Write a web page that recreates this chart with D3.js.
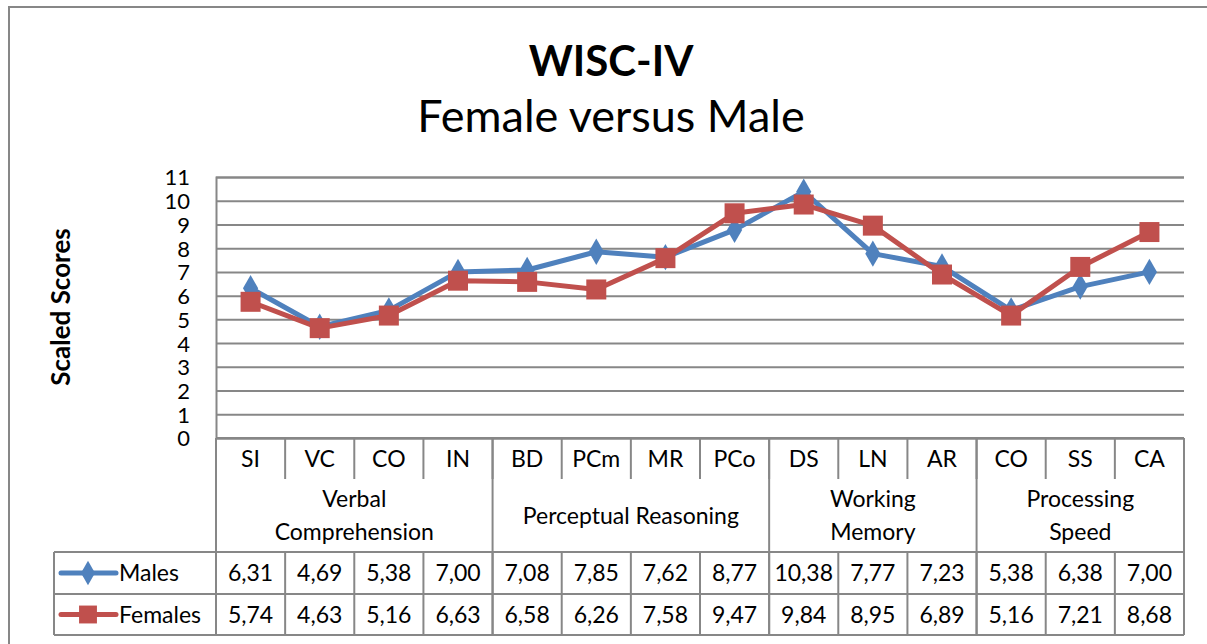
<!DOCTYPE html>
<html lang="en">
<head>
<meta charset="UTF-8">
<script src="https://d3js.org/d3.v7.min.js"></script>
<title>WISC-IV Female versus Male</title>
<style>
  body { margin: 0; background: #fff; }
  svg { display: block; font-family: Lato, "Open Sans", sans-serif; }
</style>
</head>
<body>
<script>
// data
const subtests = ["SI", "VC", "CO", "IN", "BD", "PCm", "MR", "PCo", "DS", "LN", "AR", "CO", "SS", "CA"];
const groupNames = [["Verbal", "Comprehension"], ["Perceptual Reasoning"], ["Working", "Memory"], ["Processing", "Speed"]];
const groupSizes = [4, 4, 3, 3];
const males = [6.31, 4.69, 5.38, 7.00, 7.08, 7.85, 7.62, 8.77, 10.38, 7.77, 7.23, 5.38, 6.38, 7.00];
const females = [5.74, 4.63, 5.16, 6.63, 6.58, 6.26, 7.58, 9.47, 9.84, 8.95, 6.89, 5.16, 7.21, 8.68];
const yTicks = [0, 1, 2, 3, 4, 5, 6, 7, 8, 9, 10, 11];

const width = 1207, height = 644;
const plot = { left: 216, right: 1184, top: 177, bottom: 438 };
const rowCat = 479, rowMales = 552, rowFemales = 594, rowEnd = 635;
const legendLeft = 54;
const gridColor = "#878787";
const blue = "#4F81BD", red = "#C0504D";

const comma = d3.formatLocale({ decimal: ",", thousands: ".", grouping: [3], currency: ["", ""] }).format(".2f");

const svg = d3.select("body").append("svg")
  .attr("width", width)
  .attr("height", height);

// outer chart border (cropped on the right / bottom)
svg.append("path")
  .attr("d", `M9,${height + 5} V7 H${width + 5}`)
  .attr("fill", "none")
  .attr("stroke", gridColor)
  .attr("stroke-width", 2);

// titles
svg.append("text")
  .attr("x", 611).attr("y", 76)
  .attr("text-anchor", "middle")
  .attr("font-size", 42).attr("font-weight", "bold")
  .text("WISC-IV");
svg.append("text")
  .attr("x", 611).attr("y", 132)
  .attr("text-anchor", "middle")
  .attr("font-size", 45)
  .text("Female versus Male");

const x = d3.scaleBand()
  .domain(d3.range(subtests.length))
  .range([plot.left, plot.right])
  .padding(0);
const y = d3.scaleLinear()
  .domain([0, 11])
  .range([plot.bottom, plot.top]);

// gridlines + y axis
const yAxis = d3.axisLeft(y)
  .tickValues(yTicks)
  .tickSize(-(plot.right - plot.left))
  .tickPadding(8);
const yg = svg.append("g")
  .attr("transform", `translate(${plot.left},0)`)
  .call(yAxis);
yg.select(".domain").attr("stroke", gridColor).attr("stroke-width", 2);
yg.selectAll(".tick line").attr("stroke", gridColor).attr("stroke-width", 2);
yg.selectAll(".tick text")
  .attr("font-size", 22)
  .attr("font-family", "Lato, sans-serif")
  .attr("fill", "#000")
  .attr("x", -26)
  .attr("dy", "0.36em");

svg.append("text")
  .attr("transform", "translate(70,307) rotate(-90)")
  .attr("text-anchor", "middle")
  .attr("font-size", 26).attr("font-weight", "bold")
  .text("Scaled Scores");

// data table
const table = svg.append("g")
  .attr("fill", "none")
  .attr("stroke", gridColor)
  .attr("stroke-width", 2);

const colX = i => plot.left + i * x.bandwidth();

// category separators in first row
table.selectAll("line.cat")
  .data(d3.range(subtests.length + 1))
  .join("line")
  .attr("class", "cat")
  .attr("x1", colX).attr("x2", colX)
  .attr("y1", plot.bottom).attr("y2", rowCat);

// group separators through the whole table
const groupEdges = [0, ...d3.cumsum(groupSizes)];
table.selectAll("line.grp")
  .data(groupEdges)
  .join("line")
  .attr("class", "grp")
  .attr("x1", colX).attr("x2", colX)
  .attr("y1", plot.bottom).attr("y2", rowEnd);

// value column separators
table.selectAll("line.val")
  .data(d3.range(subtests.length + 1))
  .join("line")
  .attr("class", "val")
  .attr("x1", colX).attr("x2", colX)
  .attr("y1", rowMales).attr("y2", rowEnd);

// horizontal rows
[plot.bottom, rowMales, rowFemales, rowEnd].forEach((yy, k) => {
  table.append("line")
    .attr("x1", k === 0 ? plot.left : legendLeft)
    .attr("x2", plot.right)
    .attr("y1", yy).attr("y2", yy);
});
table.append("line")
  .attr("x1", legendLeft).attr("x2", legendLeft)
  .attr("y1", rowMales).attr("y2", rowEnd);

// category labels
svg.append("g").selectAll("text")
  .data(subtests)
  .join("text")
  .attr("x", (d, i) => x(i) + x.bandwidth() / 2)
  .attr("y", 467)
  .attr("text-anchor", "middle")
  .attr("font-size", 23)
  .text(d => d);

// group labels
const groupG = svg.append("g").selectAll("text")
  .data(groupNames)
  .join("text")
  .attr("text-anchor", "middle")
  .attr("font-size", 23)
  .attr("x", (d, i) => colX(groupEdges[i] + groupSizes[i] / 2))
  .attr("y", d => d.length === 1 ? 524 : 507);
groupG.selectAll("tspan")
  .data(d => d)
  .join("tspan")
  .attr("x", function () { return this.parentNode.getAttribute("x"); })
  .attr("dy", (d, i) => i === 0 ? 0 : 33)
  .text(d => d);

// value rows
const series = [
  { name: "Males", values: males, color: blue, shape: d3.symbolDiamond, size: 200, row: rowMales },
  { name: "Females", values: females, color: red, shape: d3.symbolSquare, size: 400, row: rowFemales }
];

series.forEach(s => {
  const cy = (s.row + (s.row === rowMales ? rowFemales : rowEnd)) / 2;
  svg.append("g").selectAll("text")
    .data(s.values)
    .join("text")
    .attr("x", (d, i) => x(i) + x.bandwidth() / 2)
    .attr("y", cy + 8)
    .attr("text-anchor", "middle")
    .attr("font-size", 23)
    .text(d => comma(d));

  // legend key
  svg.append("line")
    .attr("x1", 61).attr("x2", 116)
    .attr("y1", cy).attr("y2", cy)
    .attr("stroke", s.color).attr("stroke-width", 5)
    .attr("stroke-linecap", "round");
  svg.append("path")
    .attr("d", d3.symbol(s.shape, s.shape === d3.symbolSquare ? 320 : 170)())
    .attr("transform", `translate(88,${cy})`)
    .attr("fill", s.color);
  svg.append("text")
    .attr("x", 119).attr("y", cy + 8)
    .attr("font-size", 23)
    .text(s.name);
});

// lines and markers
const line = d3.line()
  .x((d, i) => x(i) + x.bandwidth() / 2)
  .y(d => y(d));

series.forEach(s => {
  svg.append("path")
    .datum(s.values)
    .attr("d", line)
    .attr("fill", "none")
    .attr("stroke", s.color)
    .attr("stroke-width", 5)
    .attr("stroke-linejoin", "round");
  svg.append("g").selectAll("path")
    .data(s.values)
    .join("path")
    .attr("d", d3.symbol(s.shape, s.size)())
    .attr("transform", (d, i) => `translate(${x(i) + x.bandwidth() / 2},${y(d)})`)
    .attr("fill", s.color);
});
</script>
</body>
</html>
